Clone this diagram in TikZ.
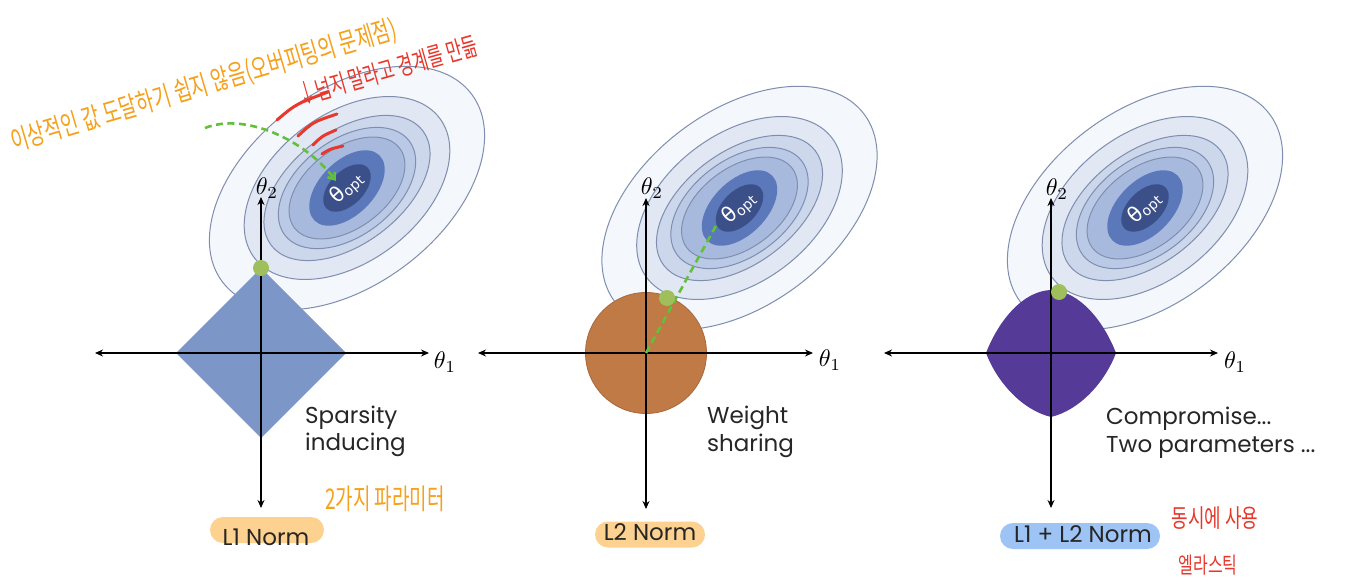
\documentclass[tikz,border=0pt]{standalone}
\usepackage{fontspec}
\setmainfont{Poppins}
\newfontfamily\krfont{Noto Sans CJK KR}
\newfontfamily\dvfont{DejaVu Sans}
\usetikzlibrary{arrows.meta}
\definecolor{eA}{HTML}{F4F7FB}
\definecolor{eB}{HTML}{E1E8F4}
\definecolor{eC}{HTML}{CCD7EC}
\definecolor{eD}{HTML}{BACAE6}
\definecolor{eE}{HTML}{A7B9DD}
\definecolor{eF}{HTML}{5A78BA}
\definecolor{eG}{HTML}{3B4F88}
\definecolor{cline}{HTML}{7F8EAF}
\definecolor{lone}{HTML}{7C96C8}
\definecolor{ltwo}{HTML}{BF7A46}
\definecolor{ltwoedge}{HTML}{A8683A}
\definecolor{elas}{HTML}{553A97}
\definecolor{dotg}{HTML}{9EBF5C}
\definecolor{dashg}{HTML}{62C03A}
\definecolor{pillo}{HTML}{FDD18F}
\definecolor{pillb}{HTML}{9DC4F5}
\definecolor{hand}{HTML}{F6A11C}
\definecolor{handr}{HTML}{E8382B}
\definecolor{txt}{HTML}{262626}
\tikzset{
 axisline/.style={line width=1.8pt, draw=black, {Stealth[length=8pt,width=7pt]}-{Stealth[length=8pt,width=7pt]}},
 ctr/.style={draw=cline, line width=1pt},
 contours/.pic={
   \begin{scope}[rotate=37]
     \draw[ctr, fill=eA] (0,0) ellipse (156 and 97);
     \draw[ctr, fill=eB] (0,0) ellipse (116 and 74);
     \draw[ctr, fill=eC] (0,0) ellipse (95 and 56);
     \draw[ctr, fill=eD] (0,0) ellipse (78 and 48);
     \draw[ctr, fill=eE] (0,0) ellipse (66 and 40);
   \end{scope}
   \begin{scope}[rotate=45]
     \fill[eF] (0,0) ellipse (46 and 27);
     \fill[eG] (0,0) ellipse (29 and 17);
   \end{scope}
   \node[rotate=42, text=white, inner sep=0] (-opt) {\dvfont\fontsize{21}{21}\selectfont θ\fontsize{14}{14}\selectfont\raisebox{-2pt}{opt}};
 },
 caption/.style={font=\fontsize{23}{27}\selectfont, text=txt, anchor=base west, inner sep=0},
 pill/.style={rounded corners=13pt, minimum height=26pt, inner sep=0},
 normtxt/.style={font=\fontsize{23}{27}\selectfont, text=black!85, anchor=base, inner sep=0},
 thlbl/.style={scale=2.4, inner sep=0},
 greendash/.style={draw=dashg, line width=2.6pt, dash pattern=on 7pt off 4.5pt},
 hando/.style={text=hand, font=\krfont\fontsize{19}{19}\selectfont, inner sep=0},
 handred/.style={text=handr, font=\krfont\fontsize{17}{17}\selectfont, inner sep=0},
 redstroke/.style={draw=handr, line width=3pt, line cap=round},
 gdot/.style={fill=dotg},
}
\begin{document}
\begin{tikzpicture}[x=1pt,y=-1pt]
\useasboundingbox (0,0) rectangle (1346,580);
\fill[white] (0,0) rectangle (1346,580);

% contour sets
\pic (p1) at (347,188) {contours};
\pic (p2) at (739.5,208) {contours};
\pic (p3) at (1145,208) {contours};

% named coordinates
\coordinate (o1) at (261,353);
\coordinate (xl1) at (95,353);
\coordinate (xr1) at (429,353);
\coordinate (yt1) at (261,197);
\coordinate (yb1) at (261,508);
\coordinate (o2) at (646,353);
\coordinate (xl2) at (478,353);
\coordinate (xr2) at (813,353);
\coordinate (yt2) at (646,198);
\coordinate (yb2) at (646,509);
\coordinate (o3) at (1051,353);
\coordinate (xl3) at (884,353);
\coordinate (xr3) at (1218,353);
\coordinate (yt3) at (1051,198);
\coordinate (yb3) at (1051,508);

% constraint regions
\fill[lone] (261,268) -- (346,353) -- (261,438) -- (176,353) -- cycle;
\draw[fill=ltwo, draw=ltwoedge, line width=0.8pt] (o2) circle (60.5);
\fill[elas] (1116,353) .. controls (1104,322) and (1080,291) .. (1051,290)
  .. controls (1022,291) and (998,322) .. (986,353)
  .. controls (997,382) and (1022,410) .. (1051,417)
  .. controls (1080,410) and (1105,382) .. (1116,353) -- cycle;

% axes
\draw[axisline] (xl1) -- (xr1);
\draw[axisline] (yb1) -- (yt1);
\draw[axisline] (xl2) -- (xr2);
\draw[axisline] (yb2) -- (yt2);
\draw[axisline] (xl3) -- (xr3);
\draw[axisline] (yb3) -- (yt3);

% axis labels
\node[thlbl] (th11) at (445,362) {$\theta_1$};
\node[thlbl] (th21) at (267,188) {$\theta_2$};
\node[thlbl] (th12) at (830,360) {$\theta_1$};
\node[thlbl] (th22) at (652,188) {$\theta_2$};
\node[thlbl] (th13) at (1235,362) {$\theta_1$};
\node[thlbl] (th23) at (1057,189) {$\theta_2$};

% green dashed paths
\coordinate (opt2) at (718,222);
\draw[greendash] (o2) -- (opt2);
\coordinate (gs) at (205,128);
\coordinate (ge) at (336,181);
\draw[greendash, -{Straight Barb[length=6pt,width=9pt]}] (gs) .. controls (245,112) and (305,140) .. (ge);

% touch points
\fill[gdot] (261,268) circle (8);
\fill[gdot] (667,298) circle (8);
\fill[gdot] (1059,292) circle (8);

% captions
\node[caption] (c1a) at (305,423) {Sparsity};
\node[caption] (c1b) at (305,450) {inducing};
\node[caption] (c2a) at (707,423) {Weight};
\node[caption] (c2b) at (707,451) {sharing};
\node[caption] (c3a) at (1106,424) {Compromise...};
\node[caption] (c3b) at (1106,452) {Two parameters ...};

% norm labels
\node[pill, fill=pillo, minimum width=114pt] (pl1) at (267,530) {};
\node[normtxt] (n1) at (266,545) {L1 Norm};
\node[pill, fill=pillo, minimum width=110pt] (pl2) at (650,534.5) {};
\node[normtxt] (n2) at (650,540) {L2 Norm};
\node[pill, fill=pillb, minimum width=160pt] (pl3) at (1080,536) {};
\node[normtxt] (n3) at (1083,542) {L1 + L2 Norm};

% handwritten annotations
\node[hando, rotate=16.5, yscale=1.45] (h1) at (204,86) {이상적인 값 도달하기 쉽지 않음(오버피팅의 문제점)};
\node[handred, rotate=16, yscale=1.5] (h2) at (388,70) {↓넘지 말라고 경계를 만듦};
\draw[redstroke] (277,120) .. controls (296,104) .. (328,92);
\draw[redstroke] (298,136) .. controls (313,122) .. (337,114);
\draw[redstroke] (313,145) .. controls (322,136) .. (336,130);
\draw[redstroke] (322,154) .. controls (330,149) .. (343,146);
\node[hando, yscale=1.5] (h3) at (385,499) {2가지 파라미터};
\node[handred, font=\krfont\fontsize{18}{18}\selectfont, yscale=1.4] (h4) at (1215,518) {동시에 사용};
\node[handred, font=\krfont\fontsize{16}{16}\selectfont, yscale=1.4] (h5) at (1208,565) {엘라스틱};
\end{tikzpicture}
\end{document}
